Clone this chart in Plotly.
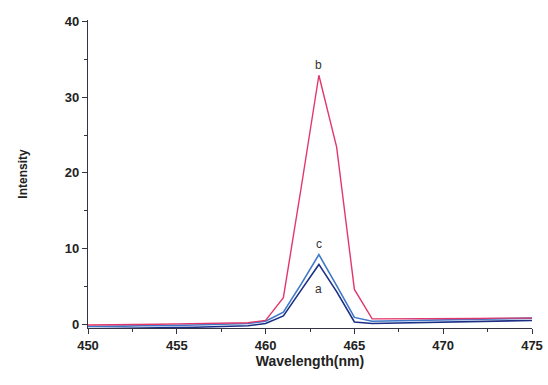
import plotly.graph_objects as go

wavelength = list(range(450, 476))
curve_a = [-0.6, -0.6, -0.55, -0.5, -0.5, -0.45, -0.4, -0.35, -0.3, -0.2, 0.1,
           1.1, 4.5, 7.9, 4.3, 0.3, 0.1, 0.15, 0.2, 0.25, 0.3, 0.3, 0.35, 0.4, 0.45, 0.5]
curve_b = [-0.1, -0.1, -0.05, 0.0, 0.0, 0.05, 0.1, 0.1, 0.15, 0.2, 0.5,
           3.5, 18.0, 32.9, 23.4, 4.6, 0.7, 0.7, 0.7, 0.7, 0.75, 0.75, 0.75, 0.8, 0.8, 0.8]
curve_c = [-0.3, -0.3, -0.25, -0.2, -0.2, -0.15, -0.1, -0.05, 0.0, 0.1, 0.4,
           1.6, 5.3, 9.2, 5.1, 0.9, 0.4, 0.45, 0.5, 0.55, 0.6, 0.6, 0.65, 0.7, 0.75, 0.8]
labels = ["a", "b", "c"]
label_y = [4.6, 34.3, 10.6]
x_ticks = [450, 455, 460, 465, 470, 475]
y_ticks = [0, 10, 20, 30, 40]

fig = go.Figure()
fig.add_trace(go.Scatter(x=wavelength, y=curve_a, mode="lines",
                         line=dict(color="#1c2f86", width=1.6), name="a"))
fig.add_trace(go.Scatter(x=wavelength, y=curve_c, mode="lines",
                         line=dict(color="#3f78c8", width=1.6), name="c"))
fig.add_trace(go.Scatter(x=wavelength, y=curve_b, mode="lines",
                         line=dict(color="#e2376a", width=1.4), name="b"))

for lab, yy in zip(labels, label_y):
    fig.add_annotation(x=463, y=yy, text=lab, showarrow=False,
                       font=dict(family="Arial", size=12, color="#333333"))

axis_font = dict(family="Arial", size=13, color="#222222")
fig.update_xaxes(range=[450, 475], tickvals=x_ticks,
                 ticktext=[f"<b>{v}</b>" for v in x_ticks],
                 ticklabeloverflow="allow", automargin=False,
                 showgrid=False, zeroline=False, showline=True, linecolor="#333344",
                 linewidth=1.2, ticks="outside", ticklen=5, tickcolor="#333344",
                 minor=dict(ticks="outside", ticklen=3, dtick=2.5, tickcolor="#333344"),
                 tickfont=axis_font,
                 title=dict(text="<b>Wavelength(nm)</b>", font=dict(family="Arial", size=14, color="#222222"), standoff=4))
fig.update_yaxes(range=[-0.5, 40.2], tickvals=y_ticks,
                 ticktext=[f"<b>{v}</b>" for v in y_ticks],
                 showgrid=False, zeroline=False, showline=True, linecolor="#333344",
                 linewidth=1.2, ticks="outside", ticklen=5, tickcolor="#333344",
                 minor=dict(ticks="outside", ticklen=3, dtick=5, tickcolor="#333344"),
                 tickfont=axis_font,
                 title=dict(text="<b>Intensity</b>", font=dict(family="Arial", size=12, color="#222222"), standoff=34))
fig.update_layout(width=548, height=385, showlegend=False,
                  plot_bgcolor="white", paper_bgcolor="white",
                  margin=dict(l=88, r=16, t=20, b=57),
                  font=dict(family="Arial", size=13))
fig.write_html("out.html", config={"displayModeBar": False},
               post_script="document.body.style.margin='0';document.body.style.overflow='hidden';")
